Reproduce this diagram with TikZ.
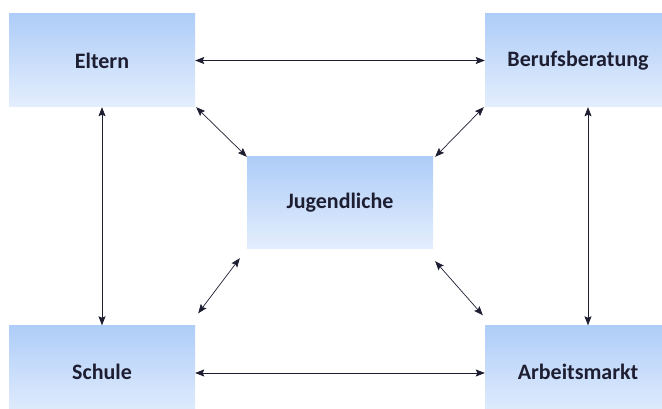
\documentclass[tikz,border=0pt]{standalone}
\usepackage{fontspec}
\setmainfont{Carlito}
\usetikzlibrary{arrows.meta}

\definecolor{boxtop}{RGB}{174,205,248}
\definecolor{boxbot}{RGB}{228,238,253}
\definecolor{ink}{RGB}{30,30,50}

\begin{document}
\begin{tikzpicture}[x=1pt,y=-1pt,
    box/.style={minimum width=186pt, minimum height=93pt, inner sep=0pt,
        top color=boxtop, bottom color=boxbot, font=\bfseries\fontsize{22}{26}\selectfont,
        text=ink},
    link/.style={{Stealth[length=9pt,width=7pt,inset=1.5pt]}-{Stealth[length=9pt,width=7pt,inset=1.5pt]},
        draw=ink, line width=0.7pt}]
\useasboundingbox (0,0) rectangle (662,409);
\clip (0,0) rectangle (662,409);

\node[box] (eltern) at (102,60.5) {Eltern};
\node[box] (beruf) at (578,60.5) {Berufsberatung};
\node[box, minimum height=92pt] (jugend) at (340,203) {Jugendliche};
\node[box] (schule) at (102,372) {Schule};
\node[box] (markt) at (578,372) {Arbeitsmarkt};

\draw[link] (eltern.east) -- (beruf.west);
\draw[link] (schule.east |- 0,373) -- (markt.west |- 0,373);
\draw[link] (eltern.south) -- (schule.north);
\draw[link] ([xshift=10pt]beruf.south) -- ([xshift=10pt]markt.north);

\draw[link] ([shift={(1,0)}]eltern.south east) -- (jugend.north west);
\draw[link] ([shift={(-1,0)}]beruf.south west) -- ([shift={(2,0)}]jugend.north east);
\draw[link] ([shift={(-7,9)}]jugend.south west) -- ([shift={(3,-12)}]schule.north east);
\draw[link] ([shift={(2,12)}]jugend.south east) -- ([shift={(-2,-10)}]markt.north west);
\end{tikzpicture}
\end{document}
